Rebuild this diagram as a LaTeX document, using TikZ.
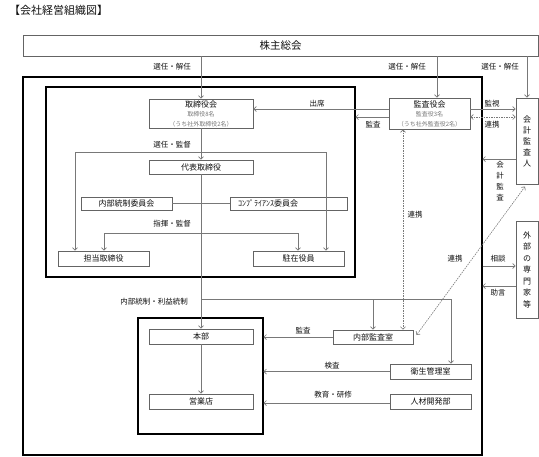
\documentclass[tikz,border=0pt]{standalone}
\usepackage{fontspec}
\setmainfont{Noto Sans CJK JP}
\usetikzlibrary{arrows.meta,calc}
\definecolor{linegray}{RGB}{120,120,120}
\definecolor{boxgray}{RGB}{100,100,100}
\definecolor{txt}{RGB}{15,15,15}
\definecolor{subgray}{RGB}{120,120,120}
\begin{document}
\begin{tikzpicture}[x=1pt,y=-1pt,
  box/.style={draw=boxgray, line width=0.8pt, inner sep=0pt, text=txt, font=\fontsize{8}{9.5}\selectfont, align=center},
  frame/.style={draw=black, line width=1.3pt},
  lbl/.style={text=txt, font=\fontsize{7.5}{9}\selectfont, inner sep=0pt},
  vlbl/.style={text=txt, font=\fontsize{7.5}{11}\selectfont, inner sep=0pt, align=center},
  arr/.style={draw=linegray, line width=0.7pt, -{Straight Barb[length=2.5pt,width=5pt]}},
  dblarr/.style={draw=linegray, line width=0.7pt, {Straight Barb[length=2.5pt,width=5pt]}-{Straight Barb[length=2.5pt,width=5pt]}},
  dotarr/.style={draw=linegray, line width=0.6pt, dash pattern=on 1.5pt off 1pt, {Straight Barb[length=2.5pt,width=5pt]}-{Straight Barb[length=2.5pt,width=5pt]}},
  plain/.style={draw=linegray, line width=0.7pt}
]
\useasboundingbox (0,0) rectangle (539,456);

% title
\node[anchor=west, text=txt, font=\fontsize{11}{12}\selectfont, inner sep=0pt] (title) at (9,10) {【会社経営組織図】};

% frames
\draw[frame] (23,77) rectangle (482,455);
\draw[frame] (46,87) rectangle (355,277);
\draw[frame] (138,318) rectangle (263,434);

% boxes
\node[box, minimum width=515, minimum height=21, font=\fontsize{10.5}{12}\selectfont] (sh) at (280.5,45.5) {株主総会};
\node[box, minimum width=104, minimum height=29] (bod) at (201,113.5) {取締役会\\{\color{subgray}\fontsize{6}{9.5}\selectfont 取締役8名}\\{\color{subgray}\fontsize{6}{9.5}\selectfont （うち社外取締役2名）}};
\node[box, minimum width=81, minimum height=31] (kansa) at (429.5,113.5) {監査役会\\{\color{subgray}\fontsize{6}{9.5}\selectfont 監査役3名}\\{\color{subgray}\fontsize{6}{9.5}\selectfont （うち社外監査役2名）}};
\node[box, minimum width=22, minimum height=86, font=\fontsize{8}{11}\selectfont] (auditor) at (527,141) {会\\計\\監\\査\\人};
\node[box, minimum width=22, minimum height=97, font=\fontsize{8}{11.5}\selectfont] (gaibu) at (527,269.5) {外\\部\\の\\専\\門\\家\\等};
\node[box, minimum width=104, minimum height=14] (ceo) at (201,167) {代表取締役};
\node[box, minimum width=91, minimum height=13] (naibu) at (126.5,203.5) {内部統制委員会};
\node[box, minimum width=117, minimum height=13] (comp) at (288.5,203.5) {\makebox[117pt][l]{\hspace*{8pt}ｺﾝﾌﾟﾗｲｱﾝｽ委員会}};
\node[box, minimum width=91, minimum height=15] (tantou) at (103.5,258.5) {担当取締役};
\node[box, minimum width=91, minimum height=15] (chuzai) at (298.5,258.5) {駐在役員};
\node[box, minimum width=104, minimum height=15] (honbu) at (201,336.5) {本部};
\node[box, minimum width=104, minimum height=15] (eigyo) at (201,401.5) {営業店};
\node[box, minimum width=80, minimum height=14] (ika) at (373,337) {内部監査室};
\node[box, minimum width=81, minimum height=15] (eisei) at (430.5,371.5) {衛生管理室};
\node[box, minimum width=81, minimum height=15] (jinzai) at (430.5,401.5) {人材開発部};

% helper coordinates
\coordinate (kx) at (437,0);
\coordinate (y109) at (0,109);
\coordinate (y117) at (0,117);
\coordinate (y152) at (0,152);
\coordinate (y159) at (0,159);
\coordinate (y233) at (0,233);
\coordinate (y266) at (0,266);
\coordinate (y286) at (0,286);
\coordinate (y299) at (0,299);
\coordinate (y403) at (0,403);
\coordinate (boardE) at (355.5,0);
\coordinate (outerE) at (482.5,0);
\coordinate (groupE) at (263.5,0);
\coordinate (x75) at (75,0);
\coordinate (x326) at (326,0);
\coordinate (x104) at (104,0);
\coordinate (x298) at (298,0);
\coordinate (x451) at (451,0);
\coordinate (x403) at (403,0);
\coordinate (dA) at (525,186.5);
\coordinate (dB) at (416.5,335);

% connectors from shareholders
\draw[arr] (sh.south -| bod.north) -- (bod.north);
\draw[arr] (sh.south -| kx) -- (kansa.north -| kx);
\draw[arr] (sh.south -| auditor.north) -- (auditor.north);

% audit board connectors
\draw[arr] (kansa.west |- y109) -- (bod.east |- y109);
\draw[arr] (kansa.west |- y117) -- (boardE |- y117);
\draw[arr] (kansa.east |- y109) -- (auditor.west |- y109);
\draw[dotarr] (kansa.east |- y117) -- (auditor.west |- y117);
\draw[arr] (auditor.west |- y159) -- (outerE |- y159);
\draw[arr] (outerE |- y266) -- (gaibu.west |- y266);
\draw[arr] (gaibu.west |- y286) -- (outerE |- y286);

% board internal
\draw[arr] (bod.south) -- (ceo.north);
\draw[dblarr] (x75 |- tantou.north) -- (x75 |- y152) -- (x326 |- y152) -- (x326 |- chuzai.north);
\draw[dblarr] (x104 |- tantou.north) -- (x104 |- y233) -- (x298 |- y233) -- (x298 |- chuzai.north);
\draw[plain] (naibu.east) -- (comp.west);
\draw[arr] (ceo.south) -- (honbu.north);
\draw[arr] (ceo.south |- y299) -| (x451 |- eisei.north);
\draw[arr] (ika.north |- y299) -- (ika.north);
\draw[arr] (honbu.south) -- (eigyo.north);

% lower connectors
\draw[arr] (ika.west) -- (groupE |- ika.west);
\draw[arr] (eisei.west) -- (groupE |- eisei.west);
\draw[arr] (jinzai.west |- y403) -- (groupE |- y403);

% dotted cooperation
\draw[dotarr] (x403 |- kansa.south) -- (x403 |- ika.north);
\draw[dotarr] (dA) -- (dB);

% labels
\node[lbl] (l1) at (172,67) {選任・解任};
\node[lbl] (l2) at (407,67) {選任・解任};
\node[lbl] (l3) at (500,67) {選任・解任};
\node[lbl] (l4) at (317,104) {出席};
\node[lbl] (l5) at (373,125) {監査};
\node[lbl] (l6) at (492,104) {監視};
\node[lbl] (l7) at (492,125) {連携};
\node[vlbl] (l8) at (500,181.5) {会\\計\\監\\査};
\node[lbl] (l9) at (172,145) {選任・監督};
\node[lbl] (l10) at (172,224) {指揮・監督};
\node[lbl] (l11) at (415,215) {連携};
\node[lbl] (l12) at (455,259) {連携};
\node[lbl] (l13) at (498,259) {相談};
\node[lbl] (l14) at (498,293) {助言};
\node[lbl] (l15) at (154,302) {内部統制・利益統制};
\node[lbl] (l16) at (303,331) {監査};
\node[lbl] (l17) at (332,366) {検査};
\node[lbl] (l18) at (333,395) {教育・研修};
\end{tikzpicture}
\end{document}
